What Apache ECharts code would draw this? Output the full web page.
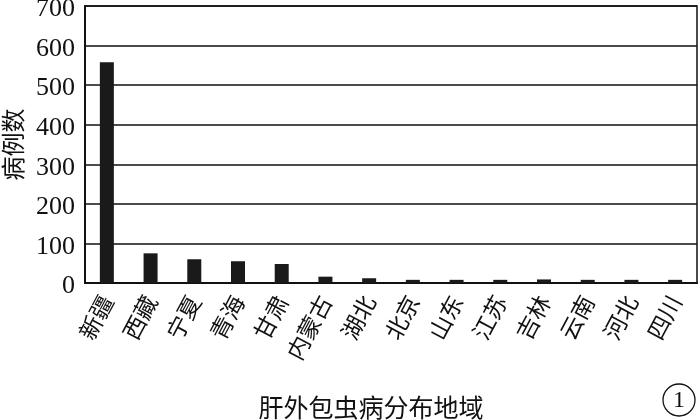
<!DOCTYPE html>
<html><head><meta charset="utf-8">
<script src="https://cdn.jsdelivr.net/npm/echarts@6/dist/echarts.min.js"></script>
<style>html,body{margin:0;padding:0;background:#fff}#c{width:700px;height:420px}</style>
</head><body><div id="c"></div>
<script>
var categories = ['新疆','西藏','宁夏','青海','甘肃','内蒙古','湖北','北京','山东','江苏','吉林','云南','河北','四川'];
var values = [558, 75, 60, 55, 48, 16, 12, 8, 8, 8, 9, 8, 8, 8];
var yTicks = [0, 100, 200, 300, 400, 500, 600, 700];
var xName = '肝外包虫病分布地域';
var yName = '病例数';
var panelLabel = '1';

var chart = echarts.init(document.getElementById('c'));
var cjk = '"Noto Sans CJK SC", sans-serif';
var serif = '"Liberation Serif", "DejaVu Serif", serif';
chart.setOption({
  animation: false,
  grid: {left: 85, right: 3, top: 6, bottom: 137, show: true, borderColor: '#111', borderWidth: 1.5, outerBoundsMode: 'none', containLabel: false},
  xAxis: {
    type: 'category', data: categories,
    axisLine: {show: true, lineStyle: {color: '#111', width: 2}},
    axisTick: {show: false},
    axisLabel: {rotate: 62, interval: 0, margin: 14, color: '#111', fontFamily: cjk, fontSize: 23},
    name: xName, nameLocation: 'middle', nameGap: 112,
    nameTextStyle: {fontFamily: cjk, fontSize: 25, color: '#111', padding: [0, 40, 0, 0]}
  },
  yAxis: {
    type: 'value', min: yTicks[0], max: yTicks[yTicks.length-1], interval: 100,
    axisLine: {show: true, lineStyle: {color: '#111', width: 2}},
    axisTick: {show: false},
    splitLine: {show: true, lineStyle: {color: '#111', width: 1.5}},
    axisLabel: {
      margin: 10, color: '#111', fontFamily: serif, fontSize: 26,
      formatter: function (v) { return '{a|' + v + '}'; },
      rich: {a: {fontFamily: serif, fontSize: 26, color: '#111', lineHeight: 26, padding: [7, 0, 0, 0]}}
    },
    name: yName, nameLocation: 'middle', nameGap: 58, nameRotate: 90,
    nameTextStyle: {fontFamily: cjk, fontSize: 24, color: '#111'}
  },
  series: [{
    type: 'bar', data: values, barWidth: 14,
    itemStyle: {color: '#1a1a1a'}
  }],
  graphic: [
    {type: 'circle', shape: {cx: 679, cy: 400, r: 16}, style: {fill: 'none', stroke: '#111', lineWidth: 1.3}},
    {type: 'text', x: 679, y: 401, style: {text: panelLabel, fontFamily: serif, fontSize: 24, fill: '#111', align: 'center', verticalAlign: 'middle'}}
  ]
});
</script></body></html>
